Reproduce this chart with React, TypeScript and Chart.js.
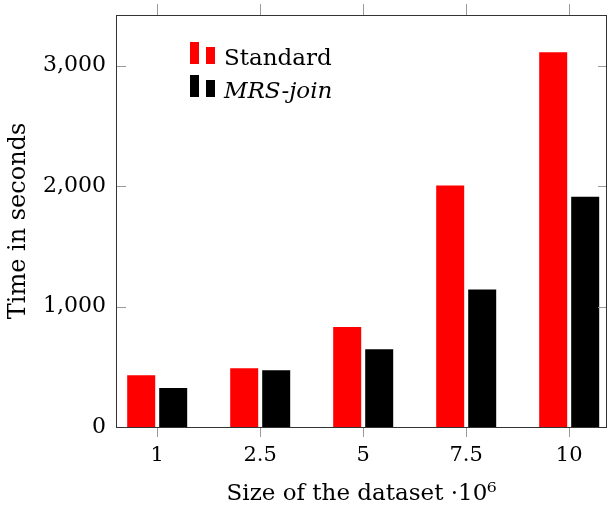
import React, { useEffect, useRef } from 'react';
import { Chart, registerables } from 'chart.js';

Chart.register(...registerables);

const xLabels = ['1', '2.5', '5', '7.5', '10'];
const standard = [430, 487, 830, 2005, 3110];
const mrsJoin = [323, 471, 645, 1142, 1912];
const yTicks = [0, 1000, 2000, 3000];
const seriesNames = ['Standard', 'MRS-join'];
const seriesColors = ['#ff0000', '#000000'];
const xTitle = 'Size of the dataset ·10⁶';
const yTitle = 'Time in seconds';

const FAMILY = '"DejaVu Serif", serif';

export default function App() {
  const ref = useRef<HTMLCanvasElement>(null);

  useEffect(() => {
    if (!ref.current) return;

    const pgfPlugin = {
      id: 'pgfBox',
      afterDatasetsDraw(chart: any) {
        const { ctx, chartArea: a, scales } = chart;
        const xs = scales.x;
        const ys = scales.y;
        ctx.save();
        // tick marks
        ctx.strokeStyle = '#9a9a9a';
        ctx.lineWidth = 1;
        ctx.beginPath();
        xs.ticks.forEach((t: any) => {
          const px = Math.round(xs.getPixelForValue(t.value)) + 0.5;
          ctx.moveTo(px, a.bottom);
          ctx.lineTo(px, a.bottom + 10);
          ctx.moveTo(px, a.top);
          ctx.lineTo(px, a.top - 11);
        });
        ys.ticks.forEach((t: any) => {
          const py = Math.round(ys.getPixelForValue(t.value)) + 0.5;
          ctx.moveTo(a.left, py);
          ctx.lineTo(a.left + 10, py);
          ctx.moveTo(a.right, py);
          ctx.lineTo(a.right - 9, py);
        });
        ctx.stroke();
        // axis box
        ctx.strokeStyle = '#333333';
        ctx.lineWidth = 1;
        ctx.strokeRect(
          Math.round(a.left) + 0.5,
          Math.round(a.top) + 0.5,
          Math.round(a.right) - Math.round(a.left) - 1,
          Math.round(a.bottom) - Math.round(a.top)
        );
        // legend (pgfplots ybar style)
        const lx = a.left + 74;
        const rows = [
          { top: a.top + 27, base: a.top + 49 },
          { top: a.top + 60, base: a.top + 82 },
        ];
        chart.data.datasets.forEach((ds: any, i: number) => {
          const r = rows[i];
          ctx.fillStyle = ds.backgroundColor;
          ctx.fillRect(lx, r.top, 9, r.base - r.top);
          ctx.fillRect(lx + 16, r.top + 5, 9, r.base - r.top - 5);
          ctx.fillStyle = '#000';
          ctx.textBaseline = 'alphabetic';
          ctx.textAlign = 'left';
          ctx.font = (i === 1 ? 'italic ' : '') + '23px ' + FAMILY;
          ctx.fillText(ds.label, lx + 34, r.base + 1);
        });
        ctx.restore();
      },
    };

    const chart = new Chart(ref.current, {
      type: 'bar',
      data: {
        datasets: [
          {
            label: seriesNames[0],
            data: standard.map((v, i) => ({ x: i, y: v })),
            backgroundColor: seriesColors[0],
            categoryPercentage: 0.6214,
            barPercentage: 0.875,
          },
          {
            label: seriesNames[1],
            data: mrsJoin.map((v, i) => ({ x: i, y: v })),
            backgroundColor: seriesColors[1],
            categoryPercentage: 0.6214,
            barPercentage: 0.875,
          },
        ],
      },
      options: {
        animation: false,
        responsive: false,
        devicePixelRatio: 1,
        layout: { padding: { top: 15, right: 1, left: 0, bottom: 0 } },
        plugins: { legend: { display: false }, tooltip: { enabled: false } },
        scales: {
          x: {
            type: 'linear',
            offset: false,
            min: -0.4,
            max: 4.367,
            afterBuildTicks: (s: any) => {
              s.ticks = xLabels.map((_, i) => ({ value: i }));
            },
            afterFit: (s: any) => {
              s.height = 85;
            },
            grid: { display: false, drawTicks: false, offset: false },
            border: { display: false },
            ticks: {
              callback: (v: any) => xLabels[v as number],
              font: { family: FAMILY, size: 21, lineHeight: 0.3 },
              color: '#000',
              padding: 25,
              maxRotation: 0,
              autoSkip: false,
            },
            title: {
              display: true,
              text: xTitle,
              font: { family: FAMILY, size: 23 },
              color: '#000',
              padding: { top: 0, bottom: 4 },
            },
          },
          y: {
            type: 'linear',
            min: 0,
            max: 3420,
            afterBuildTicks: (s: any) => {
              s.ticks = yTicks.map((v) => ({ value: v }));
            },
            afterFit: (s: any) => {
              s.width = 116;
            },
            grid: { display: false, drawTicks: false },
            border: { display: false },
            ticks: {
              callback: (v: any) => Number(v).toLocaleString('en-US'),
              font: { family: FAMILY, size: 22, lineHeight: 0.3 },
              color: '#000',
              padding: 10,
            },
            title: {
              display: true,
              text: yTitle,
              font: { family: FAMILY, size: 24 },
              color: '#000',
              padding: { top: 4, bottom: 0 },
            },
          },
        },
      },
      plugins: [pgfPlugin],
    } as any);

    return () => chart.destroy();
  }, []);

  return (
    <div style={{ position: 'fixed', left: 0, top: 0, width: 608, height: 512, background: '#fff' }}>
      <canvas ref={ref} width={608} height={512} style={{ display: 'block' }} />
    </div>
  );
}
